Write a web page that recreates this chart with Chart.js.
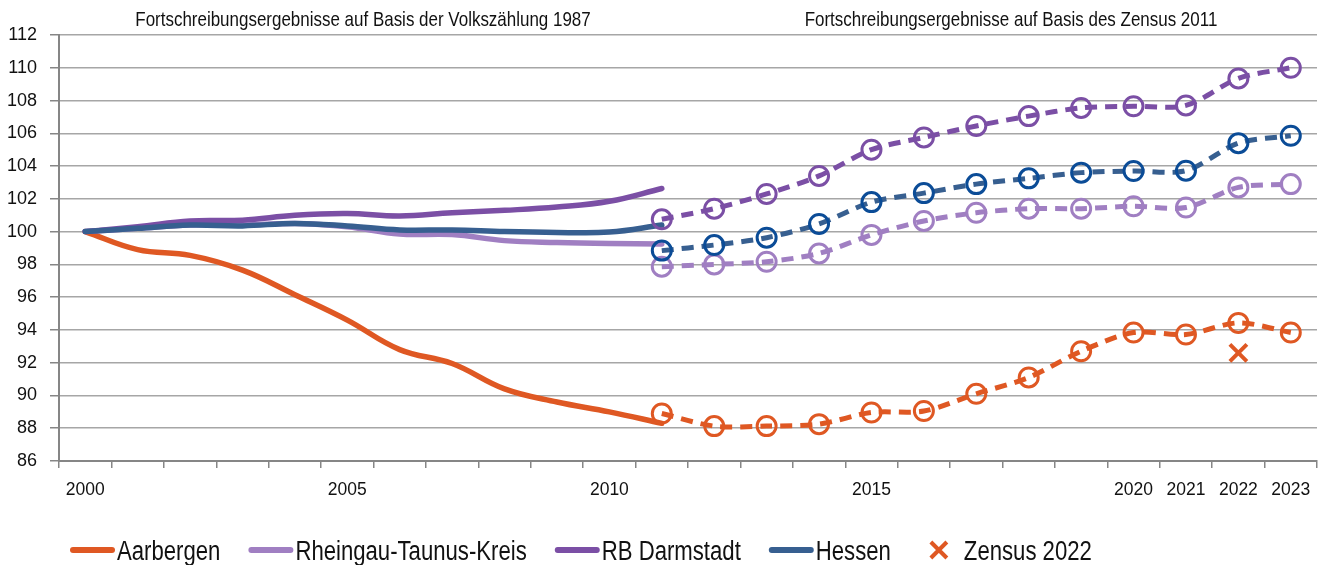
<!DOCTYPE html>
<html>
<head>
<meta charset="utf-8">
<script src="https://cdn.jsdelivr.net/npm/chart.js@4.4.1/dist/chart.umd.min.js"></script>
<style>
html,body{margin:0;padding:0;background:#fff;}
#wrap{width:1333px;height:565px;position:relative;}
</style>
</head>
<body>
<div id="wrap"><canvas id="c" width="1333" height="565"></canvas></div>
<script>
// ---- data ----
const years = ['2000','2001','2002','2003','2004','2005','2006','2007','2008','2009','2010','2011',
               '2012','2013','2014','2015','2016','2017','2018','2019','2020','2021','2022','2023'];
const shownYearLabels = ['2000','2005','2010','2015','2020','2021','2022','2023'];
const yTicks = [86,88,90,92,94,96,98,100,102,104,106,108,110,112];

// Fortschreibung auf Basis der Volkszählung 1987 (2000–2011)
const aarbergenVZ  = [100, 98.9, 98.55, 97.65, 96.15, 94.6, 92.8, 91.95, 90.4, 89.6, 89.0, 88.3];
const rheingauVZ   = [100, 100.2, 100.4, 100.4, 100.5, 100.3, 99.85, 99.82, 99.45, 99.33, 99.27, 99.25];
const darmstadtVZ  = [100, 100.3, 100.65, 100.7, 101.0, 101.1, 100.95, 101.15, 101.3, 101.5, 101.85, 102.63];
const hessenVZ     = [100, 100.2, 100.4, 100.35, 100.5, 100.35, 100.1, 100.1, 100.0, 99.95, 99.97, 100.4];

// Fortschreibung auf Basis des Zensus 2011 (2011–2023)
const aarbergenZ11 = [88.9, 88.13, 88.13, 88.25, 88.96, 89.05, 90.1, 91.1, 92.7, 93.84, 93.72, 94.43, 93.84];
const rheingauZ11  = [97.86, 98.0, 98.16, 98.67, 99.8, 100.65, 101.15, 101.4, 101.4, 101.55, 101.47, 102.7, 102.9];
const darmstadtZ11 = [100.75, 101.4, 102.3, 103.4, 105.0, 105.75, 106.45, 107.05, 107.55, 107.65, 107.7, 109.35, 110.0];
const hessenZ11    = [98.84, 99.18, 99.63, 100.47, 101.8, 102.35, 102.9, 103.25, 103.6, 103.7, 103.72, 105.4, 105.85];

// Zensus 2022
const zensus2022Year = '2022';
const zensus2022Value = 92.6;

const seriesNames = ['Aarbergen','Rheingau-Taunus-Kreis','RB Darmstadt','Hessen','Zensus 2022'];
const topNotes = ['Fortschreibungsergebnisse auf Basis der Volkszählung 1987',
                  'Fortschreibungsergebnisse auf Basis des Zensus 2011'];

// ---- styles ----
const FONT = "'Liberation Sans',Arial,Helvetica,sans-serif";
const NARROW = 0.82;
const C_ORANGE = '#DF5823';
const C_LILAC  = '#A07FC2';
const C_PURPLE = '#7B4FA5';
const C_BLUE   = '#375F90';
const C_BLUE_M = '#0B4C97';
const TEXT = '#111111';

Chart.defaults.font.family = FONT;
Chart.defaults.color = TEXT;

const n = years.length;
const vzIdx = years.indexOf('2011');
function pad1987(arr){ return arr.concat(new Array(n - arr.length).fill(null)); }
function pad2011(arr){ return new Array(vzIdx).fill(null).concat(arr); }

function solid(label, data, color, order){
  return {label, data: pad1987(data), borderColor: color, backgroundColor: color,
    borderWidth: 5.5, tension: 0.4, pointRadius: 0, pointHoverRadius: 0,
    borderCapStyle: 'round', borderJoinStyle: 'round', order, fill: false};
}
function dashed(label, data, color, markerColor, order){
  return {label, data: pad2011(data), borderColor: color, backgroundColor: color,
    borderWidth: 5, borderDash: [12, 8], tension: 0.3,
    pointRadius: 9.5, pointHoverRadius: 9.5, pointBorderWidth: 3,
    pointBorderColor: markerColor, pointBackgroundColor: 'rgba(255,255,255,0)',
    order, fill: false};
}

const zensusData = years.map(y => y === zensus2022Year ? zensus2022Value : null);

const datasets = [
  solid(seriesNames[0], aarbergenVZ, C_ORANGE, 8),
  solid(seriesNames[1], rheingauVZ, C_LILAC, 7),
  solid(seriesNames[2], darmstadtVZ, C_PURPLE, 6),
  solid(seriesNames[3], hessenVZ, C_BLUE, 5),
  dashed(seriesNames[0], aarbergenZ11, C_ORANGE, C_ORANGE, 4),
  dashed(seriesNames[1], rheingauZ11, C_LILAC, C_LILAC, 3),
  dashed(seriesNames[2], darmstadtZ11, C_PURPLE, C_PURPLE, 2),
  dashed(seriesNames[3], hessenZ11, C_BLUE, C_BLUE_M, 1),
  {label: seriesNames[4], data: zensusData, showLine: false, pointStyle: 'crossRot',
   pointRadius: 12, pointHoverRadius: 12, pointBorderWidth: 4,
   borderColor: C_ORANGE, backgroundColor: C_ORANGE, order: 0}
];

// draw condensed text (Arial Narrow look) by squeezing Liberation Sans horizontally
function narrowText(ctx, text, x, y, size, align){
  ctx.save();
  ctx.font = size + "px " + FONT;
  const w = ctx.measureText(text).width * NARROW;
  let left = x;
  if (align === 'center') left = x - w / 2;
  ctx.translate(left, y);
  ctx.scale(NARROW, 1);
  ctx.textAlign = 'left';
  ctx.textBaseline = 'alphabetic';
  ctx.fillText(text, 0, 0);
  ctx.restore();
  return w;
}

const notesPlugin = {
  id: 'notes',
  afterDraw(chart){
    const ctx = chart.ctx;
    ctx.save();
    ctx.fillStyle = TEXT;
    narrowText(ctx, topNotes[0], 363, 26, 20.7, 'center');
    narrowText(ctx, topNotes[1], 1011, 26, 20.7, 'center');

    // bottom legend
    const y = 550, base = 560, fs = 27;
    let x = 70;
    const colors = [C_ORANGE, C_LILAC, C_PURPLE, C_BLUE];
    for (let i = 0; i < 4; i++){
      ctx.strokeStyle = colors[i];
      ctx.lineWidth = 6;
      ctx.lineCap = 'round';
      ctx.beginPath(); ctx.moveTo(x + 3, y); ctx.lineTo(x + 42, y); ctx.stroke();
      x += 47;
      ctx.fillStyle = TEXT;
      x += narrowText(ctx, seriesNames[i], x, base, fs, 'left') + 28;
    }
    // Zensus marker
    const cx = x + 20;
    ctx.strokeStyle = C_ORANGE; ctx.lineWidth = 4; ctx.lineCap = 'butt';
    ctx.beginPath();
    ctx.moveTo(cx - 8, y - 8); ctx.lineTo(cx + 8, y + 8);
    ctx.moveTo(cx + 8, y - 8); ctx.lineTo(cx - 8, y + 8);
    ctx.stroke();
    ctx.fillStyle = TEXT;
    narrowText(ctx, seriesNames[4], cx + 25, base, fs, 'left');
    ctx.restore();
  }
};

new Chart(document.getElementById('c'), {
  type: 'line',
  data: {labels: years, datasets},
  options: {
    responsive: false,
    animation: false,
    layout: {padding: {top: 35, right: 10, left: 0, bottom: 0}},
    plugins: {legend: {display: false}, tooltip: {enabled: false}, title: {display: false}},
    scales: {
      x: {
        type: 'category',
        offset: true,
        grid: {display: true, drawOnChartArea: false, drawTicks: true, tickLength: 7,
               offset: true, color: '#868686', tickColor: '#868686', lineWidth: 1.5},
        border: {display: true, color: '#868686', width: 2},
        ticks: {autoSkip: false, maxRotation: 0, minRotation: 0, padding: 12,
                font: {size: 17.5, family: FONT}, color: TEXT,
                callback(v){ const l = this.getLabelForValue(v); return shownYearLabels.includes(l) ? l : ''; }},
        afterFit(s){ s.height = 104; }
      },
      y: {
        min: yTicks[0], max: yTicks[yTicks.length - 1],
        afterBuildTicks(s){ s.ticks = yTicks.map(v => ({value: v})); },
        grid: {color: '#A6A6A6', lineWidth: 1.5, drawTicks: true, tickLength: 9, tickColor: '#868686'},
        border: {display: true, color: '#868686', width: 2},
        ticks: {padding: 13, font: {size: 18, family: FONT}, color: TEXT},
        afterFit(s){ s.width = 59; }
      }
    }
  },
  plugins: [notesPlugin]
});
</script>
</body>
</html>
